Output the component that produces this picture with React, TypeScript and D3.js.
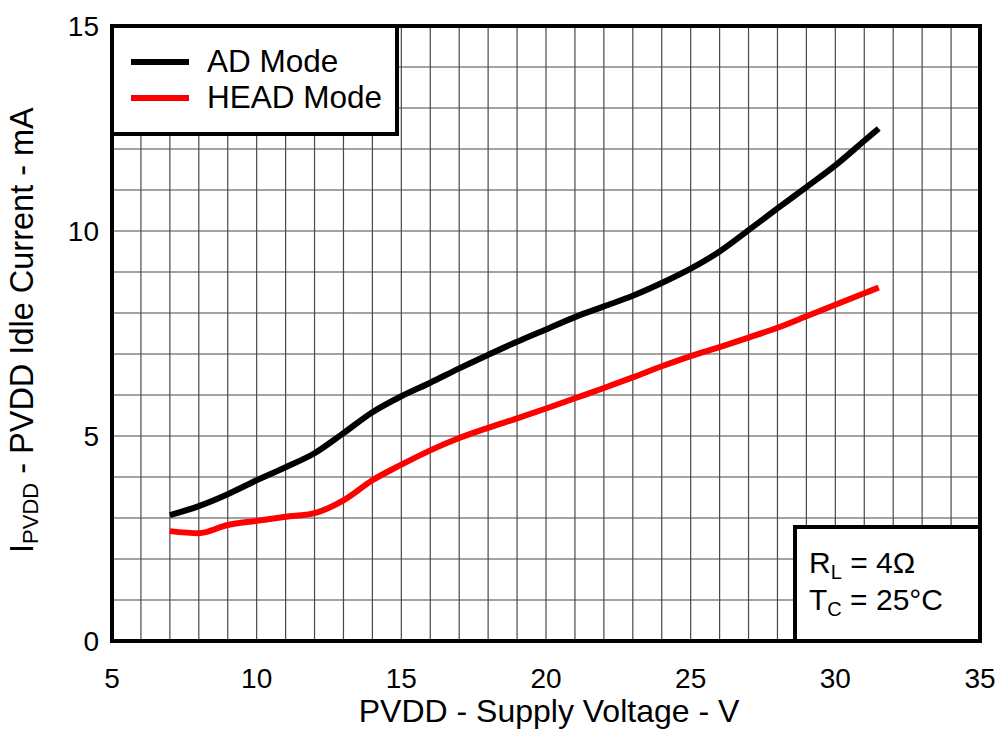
import { useMemo } from "react"
import * as d3 from "d3"

// PVDD supply voltage (V)
const voltage = [7, 8, 9, 10, 11, 12, 13, 14, 15, 16, 17, 18, 19, 20, 21, 22, 23, 24, 25, 26, 27, 28, 29, 30, 31, 31.5]
// idle current (mA)
const adMode = [3.07, 3.29, 3.58, 3.92, 4.24, 4.58, 5.07, 5.58, 5.97, 6.3, 6.65, 6.98, 7.3, 7.6, 7.9, 8.16, 8.42, 8.73, 9.08, 9.5, 10.02, 10.55, 11.07, 11.6, 12.2, 12.5]
const headMode = [2.68, 2.63, 2.83, 2.93, 3.03, 3.12, 3.43, 3.92, 4.3, 4.65, 4.95, 5.2, 5.43, 5.67, 5.92, 6.17, 6.43, 6.7, 6.95, 7.17, 7.4, 7.64, 7.92, 8.2, 8.48, 8.62]

const xTicks = [5, 10, 15, 20, 25, 30, 35]
const yTicks = [0, 5, 10, 15]

const series = [
  { name: "AD Mode", values: adMode, color: "#000000" },
  { name: "HEAD Mode", values: headMode, color: "#ff0000" },
]

const W = 1001
const H = 730
const margin = { top: 26, right: 21, bottom: 89, left: 112 }
const FONT = "'Liberation Sans', Arial, Helvetica, sans-serif"

export default function App() {
  const x = useMemo(() => d3.scaleLinear().domain([5, 35]).range([margin.left, W - margin.right]), [])
  const y = useMemo(() => d3.scaleLinear().domain([0, 15]).range([H - margin.bottom, margin.top]), [])

  const line = d3
    .line<number>()
    .x((_, i) => x(voltage[i]))
    .y((d) => y(d))
    .curve(d3.curveMonotoneX)

  const x0 = x(5)
  const x1 = x(35)
  const y0 = y(0)
  const y1 = y(15)

  // grid every 1 V and 1 mA
  const vGrid = d3.range(6, 35, 1)
  const hGrid = d3.range(1, 15, 1)

  return (
    <svg
      width={W}
      height={H}
      style={{ position: "absolute", left: 0, top: 0, background: "#fff" }}
      fontFamily={FONT}
    >
      <rect x={0} y={0} width={W} height={H} fill="#fff" />

      {/* grid */}
      <g stroke="#2a2a2a" strokeWidth={1.2} opacity={0.85}>
        {vGrid.map((v) => (
          <line key={"v" + v} x1={x(v)} x2={x(v)} y1={y1} y2={y0} />
        ))}
        {hGrid.map((v) => (
          <line key={"h" + v} x1={x0} x2={x1} y1={y(v)} y2={y(v)} />
        ))}
      </g>

      {/* curves */}
      {series.map((s) => (
        <path
          key={s.name}
          d={line(s.values) || ""}
          fill="none"
          stroke={s.color}
          strokeWidth={6}
          strokeLinejoin="round"
        />
      ))}

      {/* legend box */}
      <rect x={x0} y={y1} width={285} height={108} fill="#fff" stroke="#000" strokeWidth={4} />
      {series.map((s, i) => (
        <g key={"lg" + s.name}>
          <line x1={131} x2={189} y1={62 + i * 36} y2={62 + i * 36} stroke={s.color} strokeWidth={6} />
          <text x={207} y={72 + i * 36} fontSize={31.5} fill="#000">
            {s.name}
          </text>
        </g>
      ))}

      {/* conditions box */}
      <rect x={795} y={527} width={x1 - 795} height={y0 - 527} fill="#fff" stroke="#000" strokeWidth={4} />
      <text x={809} y={573} fontSize={30} fill="#000">
        R<tspan fontSize={20} dy={6}>L</tspan>
        <tspan dy={-6}> = 4Ω</tspan>
      </text>
      <text x={809} y={610} fontSize={30} fill="#000">
        T<tspan fontSize={20} dy={6}>C</tspan>
        <tspan dy={-6}> = 25°C</tspan>
      </text>

      {/* frame */}
      <rect x={x0} y={y1} width={x1 - x0} height={y0 - y1} fill="none" stroke="#000" strokeWidth={4} />

      {/* x ticks */}
      {xTicks.map((t) => (
        <text key={"xt" + t} x={x(t)} y={688} fontSize={28} textAnchor="middle" fill="#000">
          {t}
        </text>
      ))}
      {/* y ticks */}
      {yTicks.map((t) => (
        <text key={"yt" + t} x={99} y={y(t)} dy="0.36em" fontSize={28} textAnchor="end" fill="#000">
          {t}
        </text>
      ))}

      {/* axis titles */}
      <text x={(x0 + x1) / 2 + 3} y={722} fontSize={32} textAnchor="middle" fill="#000">
        PVDD - Supply Voltage - V
      </text>
      <text transform="translate(33,553) rotate(-90)" fontSize={32.5} fill="#000">
        I<tspan fontSize={22} dy={5}>PVDD</tspan>
        <tspan dy={-5}> - PVDD Idle Current - mA</tspan>
      </text>
    </svg>
  )
}
